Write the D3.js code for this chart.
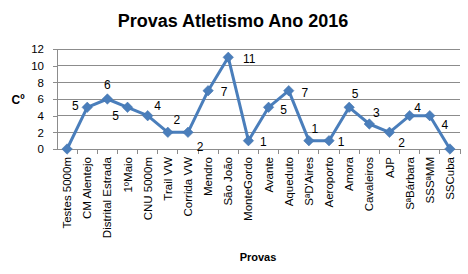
<html>
<head>
<script src="https://d3js.org/d3.v7.min.js"></script>
<style>
body { margin: 0; background: #fff; }
text { font-family: "Liberation Sans", Arial, sans-serif; fill: #000; }
</style>
</head>
<body>
<script>
var provas = ["Testes 5000m", "CM Alentejo", "Distrital Estrada", "1ºMaio", "CNU 5000m", "Trail VW",
  "Corrida VW", "Mendro", "São João", "MonteGordo", "Avante", "Aqueduto", "SªD'Aires", "Aeroporto",
  "Amora", "Cavaleiros", "AJP", "SªBárbara", "SSSªMM", "SSCuba"];
var valores = [0, 5, 6, 5, 4, 2, 2, 7, 11, 1, 5, 7, 1, 1, 5, 3, 2, 4, 4, 0];
var yTicks = [0, 2, 4, 6, 8, 10, 12];

// where each data label sits relative to its point (pixels), as placed in the original
var labelDx = [0, -12, 0, -12, 10, 9, 12, 16, 21, 15, 15, 16, 6, 12, 6, 7, 12, 8, 15, 0];
var labelDy = [0, -2, -14, 8, -10, -13, 14, 1, 1, 1, 2, 2, -12, 1, -14, -11, 10, -8, 9, 0];

var w = 468, h = 274;
var mL = 57, mR = 460, mT = 49, mB = 149;

var svg = d3.select("body").append("svg").attr("width", w).attr("height", h);

var x = d3.scaleBand().domain(provas).range([mL, mR]);
var y = d3.scaleLinear().domain([0, 12]).range([mB, mT]);
var cx = function(d) { return x(d) + x.bandwidth() / 2; };

// title
svg.append("text").attr("x", 233).attr("y", 27).attr("text-anchor", "middle")
  .style("font-size", "18px").style("font-weight", "bold").text("Provas Atletismo Ano 2016");

// gridlines
svg.append("g").selectAll("line").data(yTicks.slice(1)).enter().append("line")
  .attr("x1", mL).attr("x2", mR).attr("y1", function(d) { return y(d); }).attr("y2", function(d) { return y(d); })
  .attr("stroke", "#8c8c8c").attr("stroke-width", 1).attr("shape-rendering", "crispEdges");

// y axis
var yAxis = svg.append("g").attr("transform", "translate(" + mL + ",0)")
  .call(d3.axisLeft(y).tickValues(yTicks).tickSize(4).tickPadding(9));
yAxis.select(".domain").attr("stroke", "#8c8c8c").attr("shape-rendering", "crispEdges");
yAxis.selectAll(".tick line").attr("stroke", "#8c8c8c").attr("shape-rendering", "crispEdges");
yAxis.selectAll("text").style("font-size", "11.5px").attr("fill", "#000");

// x axis with ticks on category boundaries
var xAxis = svg.append("g").attr("transform", "translate(0," + mB + ")");
xAxis.append("line").attr("x1", mL).attr("x2", mR).attr("y1", 0).attr("y2", 0)
  .attr("stroke", "#8c8c8c").attr("shape-rendering", "crispEdges");
xAxis.selectAll("line.tk").data(provas).enter().append("line").attr("class", "tk")
  .attr("x1", function(d) { return x(d) + x.bandwidth(); }).attr("x2", function(d) { return x(d) + x.bandwidth(); })
  .attr("y1", 0).attr("y2", 5).attr("stroke", "#8c8c8c").attr("shape-rendering", "crispEdges");
xAxis.selectAll("text").data(provas).enter().append("text")
  .attr("transform", function(d) { return "translate(" + cx(d) + ",8) rotate(-90)"; })
  .attr("text-anchor", "end").attr("dy", "0.35em").style("font-size", "11.5px")
  .text(function(d) { return d; });

// axis titles
svg.append("text").attr("x", 258).attr("y", 261).attr("text-anchor", "middle")
  .style("font-size", "11px").style("font-weight", "bold").text("Provas");
svg.append("text").attr("x", 18).attr("y", 104).attr("text-anchor", "middle")
  .style("font-size", "12px").style("font-weight", "bold").text("Cº");

// line
var line = d3.line().x(function(d, i) { return cx(provas[i]); }).y(function(d) { return y(d); });
svg.append("path").datum(valores).attr("d", line).attr("fill", "none")
  .attr("stroke", "#4a7ebb").attr("stroke-width", 3).attr("stroke-linejoin", "round");

// diamond markers
svg.append("g").selectAll("path").data(valores).enter().append("path")
  .attr("d", d3.symbol().type(d3.symbolDiamond2).size(70))
  .attr("transform", function(d, i) { return "translate(" + cx(provas[i]) + "," + y(d) + ")"; })
  .attr("fill", "#4a7ebb").attr("stroke", "#3f6fa8").attr("stroke-width", 0.5);

// data labels (zero values carry no label)
var lab = svg.append("g");
valores.forEach(function(d, i) {
  if (d === 0) return;
  lab.append("text").attr("x", cx(provas[i]) + labelDx[i]).attr("y", y(d) + labelDy[i])
    .attr("text-anchor", "middle").attr("dy", "0.35em").style("font-size", "12px").text(d);
});
</script>
</body>
</html>
